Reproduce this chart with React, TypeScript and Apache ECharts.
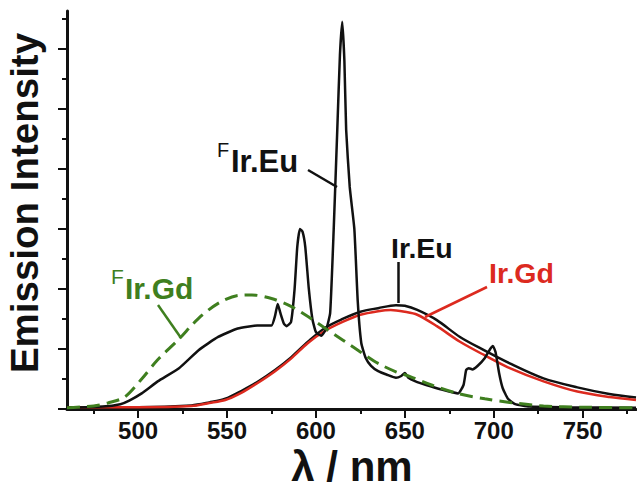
import React, { useEffect, useRef } from "react";
import * as echarts from "echarts";

// ---- data (wavelength in nm, intensity in arbitrary units) ----
const firEuX = [460,480,490,495,502,511,523,534,545,556,567,575,577,578.5,580,582,583.5,586,588,589.5,591,592.5,594,596,598,600,603,606,608,610,612,613.5,614.8,616,617,619,621.6,623.5,625.5,628,631,635,640,645,648,650,652,656,662,670,680,683,684.5,686,688,691,695,698,699.5,701,703,705,708,712,720,740,780];
const firEuY = [0.02,0.04,0.08,0.14,0.26,0.46,0.68,0.98,1.2,1.34,1.39,1.39,1.55,1.75,1.6,1.42,1.38,1.45,2.0,2.7,3.0,2.95,2.7,2.0,1.5,1.28,1.22,1.35,1.6,3.0,4.65,5.9,6.45,5.8,4.65,3.7,3.0,1.8,1.1,0.85,0.72,0.63,0.57,0.52,0.55,0.6,0.52,0.46,0.4,0.33,0.26,0.4,0.65,0.68,0.66,0.72,0.85,1.0,1.05,0.95,0.6,0.35,0.17,0.08,0.04,0.03,0.02];

const firGdX = [460,475,483,492.5,502,511,522.5,534,545,556,564,575,586,595.5,605,615,625,635,645,653,665,681,695,709,728,750,780];
const firGdY = [0.02,0.05,0.1,0.2,0.5,0.82,1.15,1.51,1.76,1.89,1.9,1.84,1.71,1.54,1.35,1.15,0.95,0.76,0.62,0.54,0.4,0.25,0.17,0.11,0.05,0.03,0.02];

const irGdX = [460,500,530,540,549,558,567,577,586,595.5,605,615,625,635,642,650,657,668,681,694.5,709,728,747,765,780];
const irGdY = [0.03,0.03,0.05,0.1,0.15,0.27,0.43,0.63,0.84,1.1,1.3,1.45,1.57,1.63,1.65,1.62,1.57,1.38,1.12,0.9,0.68,0.46,0.29,0.2,0.15];

const irEuX = [460,500,530,540,549,558,567,577,586,595.5,605,615,625,635,645,650,657,668,681,694.5,709,728,747,765,780];
const irEuY = [0.03,0.03,0.06,0.11,0.17,0.3,0.45,0.65,0.86,1.12,1.35,1.5,1.62,1.68,1.73,1.72,1.65,1.48,1.2,0.98,0.76,0.51,0.36,0.25,0.19];

const xMajorTicks = [500, 550, 600, 650, 700, 750];
const xMinorTicks = [475, 525, 575, 625, 675, 725, 775];
const yMajorTicks = [0, 1, 2, 3, 4, 5, 6];
const yMinorTicks = [0.5, 1.5, 2.5, 3.5, 4.5, 5.5, 6.5];

const X_MIN = 460;
const X_MAX = 780;
const Y_MIN = 0;
const Y_MAX = 6.63;

const FONT = "'Liberation Sans', Arial, Helvetica, sans-serif";
const BLACK = "#111111";
const RED = "#dc2a1f";
const GREEN = "#3f7f1f";

const zip = (xs: number[], ys: number[]) => xs.map((x, i) => [x, ys[i]]);

function buildOption(): echarts.EChartsCoreOption {
  const lbl = (text: string, x: number, y: number, color: string, size = 28, bold = true) => ({
    type: "text",
    x,
    y,
    z: 100,
    style: {
      text,
      fill: color,
      fontSize: size,
      fontWeight: bold ? "bold" : "normal",
      fontFamily: FONT,
      align: "left",
      verticalAlign: "middle",
      textAlign: "left",
      textVerticalAlign: "middle",
    },
  });
  const leader = (x1: number, y1: number, x2: number, y2: number, color: string) => ({
    type: "line",
    z: 100,
    shape: { x1, y1, x2, y2 },
    style: { stroke: color, lineWidth: 2.5 },
  });

  return {
    animation: false,
    backgroundColor: "#ffffff",
    grid: { left: 67, right: 1, top: 11, bottom: 80, containLabel: false },
    xAxis: [
      {
        type: "value",
        min: X_MIN,
        max: X_MAX,
        position: "bottom",
        axisLine: { show: true, onZero: false, lineStyle: { color: BLACK, width: 3 } },
        axisTick: { show: true, customValues: xMajorTicks, length: 9, lineStyle: { color: BLACK, width: 2 } },
        axisLabel: {
          show: true,
          customValues: xMajorTicks,
          fontSize: 24,
          fontWeight: "bold",
          fontFamily: FONT,
          color: BLACK,
          margin: 9,
        },
        splitLine: { show: false },
      },
      {
        type: "value",
        min: X_MIN,
        max: X_MAX,
        position: "bottom",
        axisLine: { show: false, onZero: false },
        axisTick: { show: true, customValues: xMinorTicks, length: 5, lineStyle: { color: BLACK, width: 2 } },
        axisLabel: { show: false },
        splitLine: { show: false },
      },
    ],
    yAxis: [
      {
        type: "value",
        min: Y_MIN,
        max: Y_MAX,
        position: "left",
        axisLine: { show: true, onZero: false, lineStyle: { color: BLACK, width: 3 } },
        axisTick: { show: true, customValues: yMajorTicks, length: 9, lineStyle: { color: BLACK, width: 2 } },
        axisLabel: { show: false },
        splitLine: { show: false },
      },
      {
        type: "value",
        min: Y_MIN,
        max: Y_MAX,
        position: "left",
        axisLine: { show: false, onZero: false },
        axisTick: { show: true, customValues: yMinorTicks, length: 5, lineStyle: { color: BLACK, width: 2 } },
        axisLabel: { show: false },
        splitLine: { show: false },
      },
    ],
    series: [
      {
        name: "Ir.Eu",
        type: "line",
        xAxisIndex: 0,
        yAxisIndex: 0,
        data: zip(irEuX, irEuY),
        showSymbol: false,
        smooth: 0.3,
        z: 1,
        lineStyle: { color: BLACK, width: 2.5 },
      },
      {
        name: "Ir.Gd",
        type: "line",
        xAxisIndex: 0,
        yAxisIndex: 0,
        data: zip(irGdX, irGdY),
        showSymbol: false,
        smooth: 0.3,
        z: 2,
        lineStyle: { color: RED, width: 2.5 },
      },
      {
        name: "FIr.Eu",
        type: "line",
        xAxisIndex: 0,
        yAxisIndex: 0,
        data: zip(firEuX, firEuY),
        showSymbol: false,
        smooth: 0.15,
        z: 3,
        lineStyle: { color: BLACK, width: 2.5 },
      },
      {
        name: "FIr.Gd",
        type: "line",
        xAxisIndex: 0,
        yAxisIndex: 0,
        data: zip(firGdX, firGdY),
        showSymbol: false,
        smooth: 0.3,
        z: 4,
        lineStyle: { color: GREEN, width: 3, type: [13, 7] },
      },
    ],
    graphic: [
      {
        type: "text",
        x: 24,
        y: 203,
        rotation: Math.PI / 2,
        z: 100,
        style: {
          text: "Emission Intensity",
          fill: BLACK,
          fontSize: 38.5,
          fontWeight: "bold",
          fontFamily: FONT,
          align: "center",
          verticalAlign: "middle",
          textAlign: "center",
          textVerticalAlign: "middle",
        },
      },
      {
        type: "text",
        x: 352,
        y: 466,
        z: 100,
        style: {
          text: "λ / nm",
          fill: BLACK,
          fontSize: 42,
          fontWeight: "bold",
          fontFamily: FONT,
          align: "center",
          verticalAlign: "middle",
          textAlign: "center",
          textVerticalAlign: "middle",
        },
      },
      lbl("F", 217, 150, BLACK, 20, false),
      lbl("Ir.Eu", 231, 161, BLACK, 31),
      leader(308, 170, 337, 187, BLACK),
      lbl("F", 111, 276, GREEN, 21, false),
      lbl("Ir.Gd", 125, 288, GREEN, 30),
      leader(158, 305, 181, 338, GREEN),
      lbl("Ir.Eu", 391, 248, BLACK, 28.5),
      leader(398.5, 262, 398.5, 303, BLACK),
      lbl("Ir.Gd", 489, 273, RED, 28.5),
      leader(487, 287, 425, 317, RED),
    ],
  };
}

export default function App() {
  const ref = useRef<HTMLDivElement>(null);
  useEffect(() => {
    if (!ref.current) return;
    const chart = echarts.init(ref.current, null, { renderer: "svg" });
    chart.setOption(buildOption());
    return () => {
      chart.dispose();
    };
  }, []);
  return (
    <div
      ref={ref}
      style={{ position: "absolute", left: 0, top: 0, width: 637, height: 489, background: "#fff" }}
    />
  );
}
